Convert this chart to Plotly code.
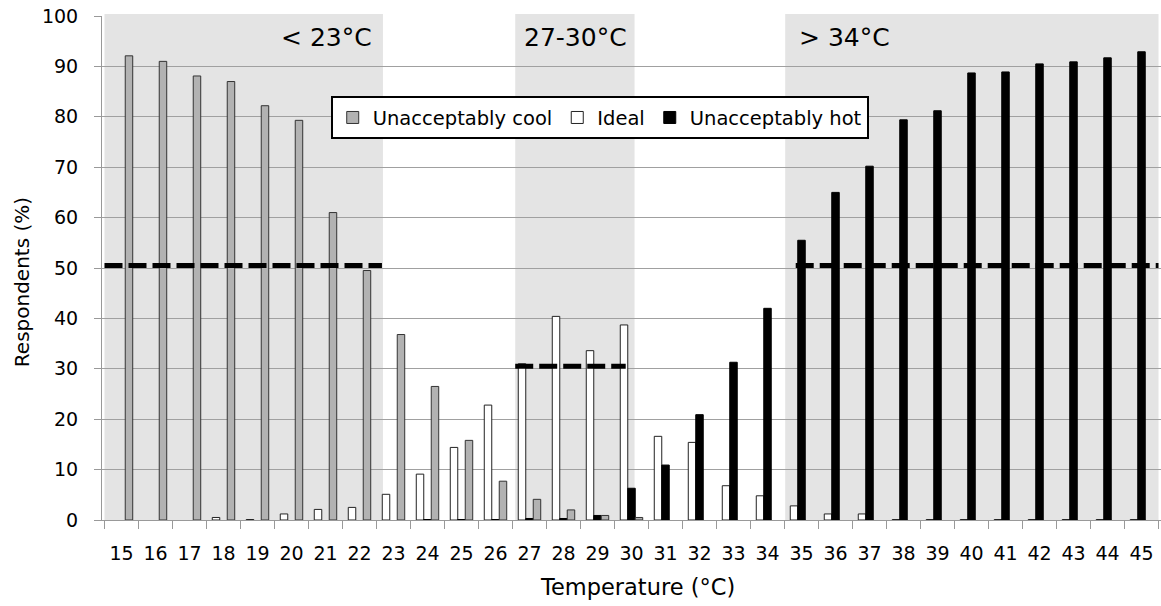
import plotly.graph_objects as go

temps = [str(t) for t in range(15, 46)]
cool = [92.1, 91.0, 88.1, 87.0, 82.2, 79.3, 61.0, 49.5, 36.8, 26.5, 15.8, 7.7, 4.1, 2.0, 0.9, 0.5,
        None, None, None, None, None, None, None, None, None, None, None, None, None, None, None]
ideal = [None, None, None, 0.5, 0.1, 1.2, 2.1, 2.5, 5.1, 9.1, 14.4, 22.8, 31.0, 40.4, 33.6, 38.7,
         16.6, 15.4, 6.8, 4.8, 2.8, 1.2, 1.2, 0.1, 0.1, 0.1, 0.1, 0.1, 0.1, 0.1, 0.1]
hot = [None, None, None, None, None, None, None, None, None, 0.1, 0.1, 0.1, 0.3, 0.3, 0.9, 6.3,
       10.9, 20.9, 31.3, 42.0, 55.5, 65.0, 70.2, 79.4, 81.2, 88.7, 88.9, 90.5, 90.9, 91.7, 92.9]

zone_labels = ["< 23°C", "27-30°C", "> 34°C"]
zone_spans = [(-0.5, 7.69), (11.58, 15.09), (19.52, 30.5)]
zone_label_pos = [6.02, 13.36, 21.27]
threshold_spans = [(-0.5, 7.66), (11.58, 14.83), (19.83, 30.5)]
threshold_values = [50.5, 30.5, 50.5]

FONT = "DejaVu Sans"

fig = go.Figure()
fig.add_trace(go.Bar(x=temps, y=ideal, name="Ideal", legendrank=2,
                     marker=dict(color="white", line=dict(color="#222", width=1))))
fig.add_trace(go.Bar(x=temps, y=hot, name="Unacceptably hot", legendrank=3,
                     marker=dict(color="black", line=dict(color="#000", width=1))))
fig.add_trace(go.Bar(x=temps, y=cool, name="Unacceptably cool", legendrank=1,
                     marker=dict(color="#b2b2b2", line=dict(color="#333", width=1))))

shapes = []
for x0, x1 in zone_spans:
    shapes.append(dict(type="rect", xref="x", yref="paper", x0=x0, x1=x1, y0=0, y1=1.004,
                       fillcolor="#e4e4e4", line=dict(width=0), layer="below"))
for (x0, x1), yv in zip(threshold_spans, threshold_values):
    shapes.append(dict(type="line", xref="x", yref="y", x0=x0, x1=x1, y0=yv, y1=yv,
                       line=dict(color="black", width=5, dash="18px,6px"), layer="above"))

annotations = []
for label, xc in zip(zone_labels, zone_label_pos):
    annotations.append(dict(x=xc, y=95.8, xref="x", yref="y", text=label, showarrow=False,
                            font=dict(size=25, color="black", family=FONT)))
annotations.append(dict(x=0.5057, y=-0.133, xref="paper", yref="paper", text="Temperature (°C)",
                        showarrow=False, xanchor="center", yanchor="middle",
                        font=dict(size=22.5, color="black", family=FONT)))
annotations.append(dict(x=-0.0755, y=0.472, xref="paper", yref="paper", text="Respondents (%)",
                        showarrow=False, xanchor="center", yanchor="middle", textangle=-90,
                        font=dict(size=20, color="black", family=FONT)))

fig.update_layout(
    width=1161, height=606,
    margin=dict(l=102, r=0, t=16, b=86, autoexpand=False),
    paper_bgcolor="white", plot_bgcolor="white",
    barmode="group", bargap=0.34, bargroupgap=0,
    font=dict(family=FONT, size=19, color="black"),
    shapes=shapes, annotations=annotations,
    legend=dict(orientation="h", x=0.470, xanchor="center", y=0.798, yanchor="middle",
                bgcolor="white", bordercolor="black", borderwidth=2,
                font=dict(size=19.5, family=FONT), traceorder="normal", itemwidth=30),
    showlegend=True,
)
fig.update_xaxes(type="category", tickson="boundaries", ticks="outside", ticklen=8,
                 tickcolor="#999", showline=True, linecolor="#999", linewidth=1,
                 showgrid=False, tickfont=dict(size=19), automargin=False,
                 ticklabelstandoff=16, ticklabeloverflow="allow")
fig.update_yaxes(range=[0, 100], dtick=10, showgrid=True, gridcolor="#a0a0a0", gridwidth=1,
                 showline=True, linecolor="#999", ticks="outside", ticklen=7, tickcolor="#999",
                 zeroline=False, tickfont=dict(size=19), automargin=False,
                 ticklabelstandoff=12, ticklabeloverflow="allow")

# remove the browser's default 8px body margin so the figure fills the window exactly
fig.write_html("out.html", config={"displayModeBar": False},
               post_script="document.body.style.margin='0';document.body.style.overflow='hidden';")
